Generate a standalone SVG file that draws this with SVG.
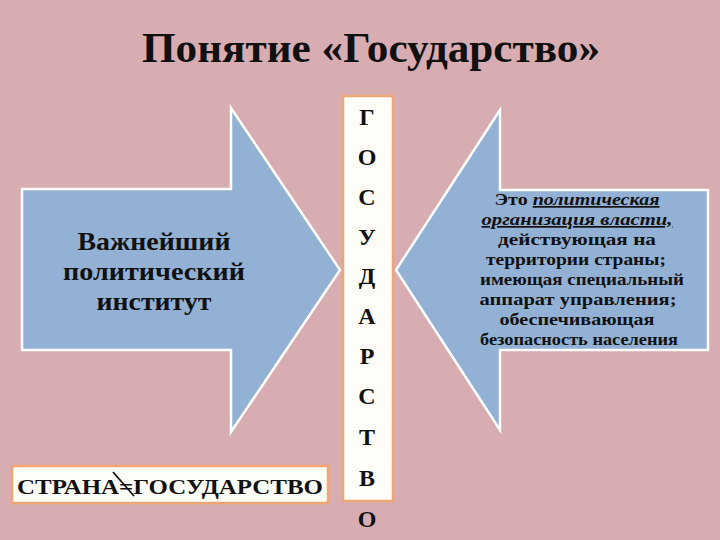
<svg xmlns="http://www.w3.org/2000/svg" width="720" height="540" viewBox="0 0 720 540">
<style>
.arrow{fill:#93b1d5;stroke:#ffffff;stroke-width:2.5;stroke-linejoin:miter}
.box{fill:#fffdf8;stroke:#eea774;stroke-width:2.5}
.t{font-family:"Liberation Serif","Times New Roman",serif;font-weight:bold;fill:#111}
.c{text-anchor:middle}
.it{font-style:italic;text-decoration:underline}
</style>
<rect x="0" y="0" width="720" height="540" fill="#d8adb2"/>
<g id="title"><text class="t c" x="371" y="62" font-size="42" textLength="458" lengthAdjust="spacingAndGlyphs">Понятие «Государство»</text></g>
<g id="left-arrow">
<polygon class="arrow" points="22,189 231,189 231,108 340,270 231,432 231,350 22,350"/>
<g class="t c" font-size="25">
<text x="154" y="250" textLength="153" lengthAdjust="spacingAndGlyphs">Важнейший</text>
<text x="154" y="280" textLength="182" lengthAdjust="spacingAndGlyphs">политический</text>
<text x="154" y="310" textLength="115" lengthAdjust="spacingAndGlyphs">институт</text>
</g>
</g>
<g id="right-arrow">
<polygon class="arrow" points="396,270 500,110 500,190 708,190 708,350 500,350 500,430"/>
<g class="t c" font-size="17">
<text x="577" y="205" textLength="165" lengthAdjust="spacingAndGlyphs">Это <tspan class="it">политическая</tspan></text>
<text x="577" y="225" class="it" textLength="191" lengthAdjust="spacingAndGlyphs">организация власти,</text>
<text x="577" y="245" textLength="158" lengthAdjust="spacingAndGlyphs">действующая на</text>
<text x="576" y="265" textLength="180" lengthAdjust="spacingAndGlyphs">территории страны;</text>
<text x="582" y="285" textLength="204" lengthAdjust="spacingAndGlyphs">имеющая специальный</text>
<text x="578" y="305" textLength="197" lengthAdjust="spacingAndGlyphs">аппарат управления;</text>
<text x="577" y="325" textLength="155" lengthAdjust="spacingAndGlyphs">обеспечивающая</text>
<text x="579" y="345" textLength="198" lengthAdjust="spacingAndGlyphs">безопасность населения</text>
</g>
</g>
<g id="word-column">
<rect class="box" x="343" y="96" width="50" height="405"/>
<text class="t c" font-size="24"><tspan x="367" y="125">Г</tspan><tspan x="367" y="165">О</tspan><tspan x="367" y="205">С</tspan><tspan x="367" y="245">У</tspan><tspan x="367" y="284">Д</tspan><tspan x="367" y="324">А</tspan><tspan x="367" y="364">Р</tspan><tspan x="367" y="404">С</tspan><tspan x="367" y="445">Т</tspan><tspan x="367" y="486">В</tspan><tspan x="367" y="527">О</tspan></text>
</g>
<g id="bottom-box">
<rect class="box" x="12" y="466" width="316" height="37"/>
<text class="t c" font-size="22" x="170" y="494" textLength="306" lengthAdjust="spacingAndGlyphs">СТРАНА=ГОСУДАРСТВО</text>
<line x1="113" y1="472" x2="134" y2="496" stroke="#111" stroke-width="1.8"/>
</g>
</svg>
